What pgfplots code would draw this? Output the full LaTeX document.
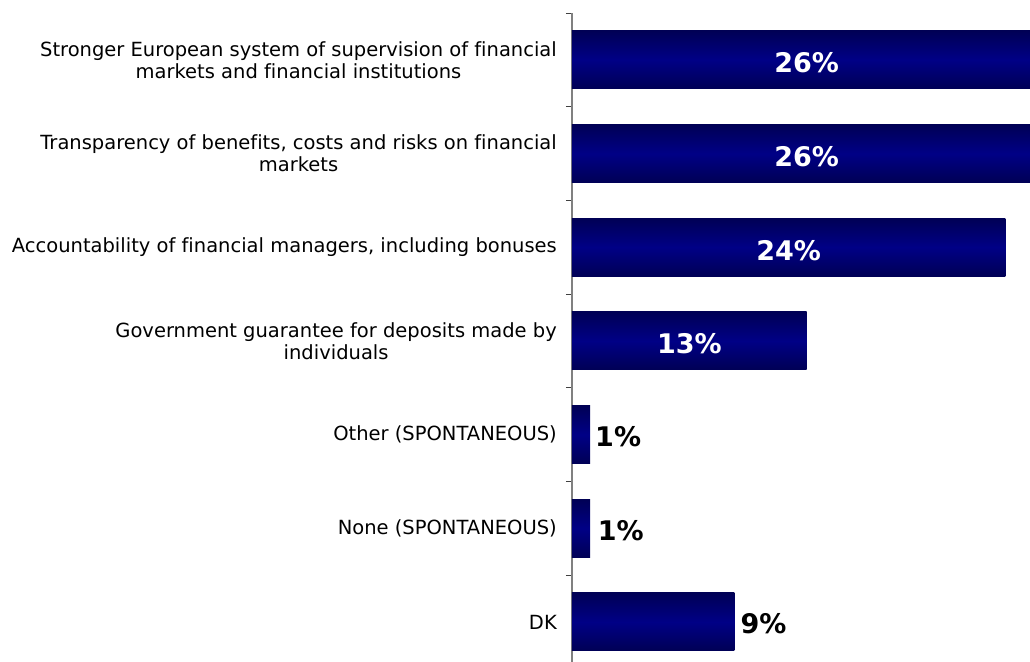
\documentclass[border=0pt]{standalone}
\usepackage{pgfplots}
\pgfplotsset{compat=1.18}
\usepackage{fontspec}
\setmainfont[Ligatures={NoCommon}]{DejaVu Sans}
\definecolor{navyE}{HTML}{000055}
\definecolor{navyM}{HTML}{000086}
\definecolor{axgray}{HTML}{808080}
\pgfplotsset{navybar/.style={xbar, bar width=58bp, bar shift=0pt, draw=none, top color=navyE, bottom color=navyE, middle color=navyM}}
\begin{document}
\begin{tikzpicture}
\begin{axis}[
  scale only axis,
  width=458bp, height=649bp,
  xmin=0, xmax=25.37,
  ymin=-0.427, ymax=6.5,
  axis x line=none,
  axis y line*=left,
  axis line style={axgray, line width=1.2bp},
  ytick={0,1,2,3,4,5,6},
  yticklabels={DK,None (SPONTANEOUS),Other (SPONTANEOUS),Government guarantee for deposits made by\\individuals,{Accountability of financial managers, including bonuses},{Transparency of benefits, costs and risks on financial\\markets},Stronger European system of supervision of financial\\markets and financial institutions},
  major tick length=0pt,
  minor ytick={0.5,1.5,2.5,3.5,4.5,5.5,6.5},
  minor tick length=6bp,
  tick align=outside,
  minor tick style={black!75, line width=0.9bp},
  yticklabel style={align=center, font=\fontsize{19.5bp}{22bp}\selectfont, inner sep=0pt, xshift=-15bp, text=black},
  clip=true,
]
\addplot[navybar] coordinates {(26,6)};
\addplot[navybar] coordinates {(26,5)};
\addplot[navybar] coordinates {(24,4)};
\addplot[navybar] coordinates {(13,3)};
\addplot[navybar] coordinates {(1,2)};
\addplot[navybar] coordinates {(1,1)};
\addplot[navybar] coordinates {(9,0)};
\addplot[draw=none, mark=none, nodes near coords, point meta=explicit symbolic,
  nodes near coords style={anchor=center, yshift=-3bp, text=white, font=\fontsize{27bp}{30bp}\selectfont\bfseries}]
  coordinates {(13,6) [26\%] (13,5) [26\%] (12,4) [24\%] (6.5,3) [13\%]};
\addplot[draw=none, mark=none, nodes near coords, point meta=explicit symbolic,
  nodes near coords style={anchor=west, inner sep=0pt, xshift=5bp, yshift=-2bp, text=black, font=\fontsize{27bp}{30bp}\selectfont\bfseries}]
  coordinates {(1,2) [1\%] (1.15,1) [1\%] (9.05,0) [9\%]};
\end{axis}
\pgfresetboundingbox
\path[use as bounding box] ([xshift=-572bp]current axis.south west) rectangle ([yshift=13bp]current axis.north east);
\end{tikzpicture}
\end{document}
